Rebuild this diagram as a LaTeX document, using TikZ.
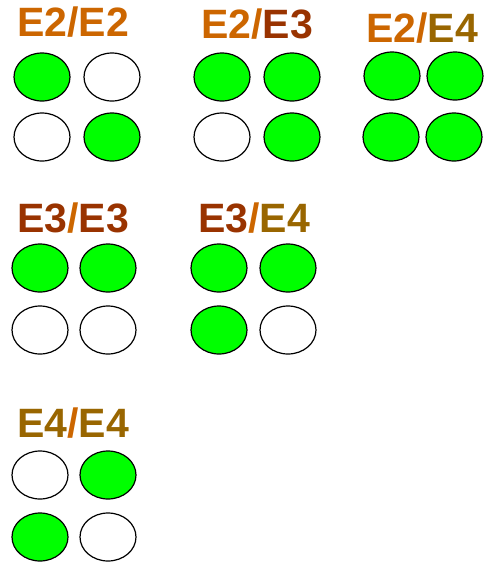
\documentclass[tikz,border=0pt]{standalone}
\usepackage{fontspec}
\setmainfont{Liberation Sans}
\usetikzlibrary{shapes.geometric}
\definecolor{etwo}{HTML}{CC6600}
\definecolor{ethree}{HTML}{993300}
\definecolor{efour}{HTML}{996600}
\definecolor{litgreen}{HTML}{00FF00}

\begin{document}
\begin{tikzpicture}[
  x=1pt, y=-1pt,
  dot/.style={draw, ellipse, minimum width=56pt, minimum height=48pt,
              inner sep=0pt, line width=1.2pt},
  lit/.style={dot, fill=litgreen},
  unlit/.style={dot, fill=white},
  ttl/.style={font=\bfseries\fontsize{41}{41}\selectfont, anchor=base,
              inner sep=0pt},
]
\useasboundingbox (0,0) rectangle (491,563);

% ---- Row 1: E2 pairs ----
\node[ttl] (t22) at (73, 36)
  {\textcolor{etwo}{E2}\textcolor{etwo}{/}\textcolor{etwo}{E2}};
\node[lit]   (a22) at (42, 77) {};
\node[unlit] (b22) at (112, 77) {};
\node[unlit] (c22) at (42, 137) {};
\node[lit]   (d22) at (112, 137) {};

\node[ttl] (t23) at (257, 38)
  {\textcolor{etwo}{E2}\textcolor{etwo}{/}\textcolor{ethree}{E3}};
\node[lit]   (a23) at (222, 77) {};
\node[lit]   (b23) at (292, 77) {};
\node[unlit] (c23) at (222, 137) {};
\node[lit]   (d23) at (292, 137) {};

\node[ttl] (t24) at (422, 42)
  {\textcolor{etwo}{E2}\textcolor{etwo}{/}\textcolor{efour}{E4}};
\node[lit]   (a24) at (392, 76) {};
\node[lit]   (b24) at (455, 76) {};
\node[lit]   (c24) at (391, 137) {};
\node[lit]   (d24) at (454, 137) {};

% ---- Row 2: E3 pairs ----
\node[ttl] (t33) at (73, 232)
  {\textcolor{ethree}{E3}\textcolor{etwo}{/}\textcolor{ethree}{E3}};
\node[lit]   (a33) at (40, 268) {};
\node[lit]   (b33) at (108, 268) {};
\node[unlit] (c33) at (40, 330) {};
\node[unlit] (d33) at (108, 330) {};

\node[ttl] (t34) at (254, 232)
  {\textcolor{ethree}{E3}\textcolor{etwo}{/}\textcolor{efour}{E4}};
\node[lit]   (a34) at (219, 268) {};
\node[lit]   (b34) at (288, 268) {};
\node[lit]   (c34) at (219, 330) {};
\node[unlit] (d34) at (288, 330) {};

% ---- Row 3: E4 pair ----
\node[ttl] (t44) at (73, 437)
  {\textcolor{efour}{E4}\textcolor{etwo}{/}\textcolor{efour}{E4}};
\node[unlit] (a44) at (40, 475) {};
\node[lit]   (b44) at (108, 475) {};
\node[lit]   (c44) at (40, 537) {};
\node[unlit] (d44) at (108, 537) {};

\end{tikzpicture}
\end{document}
